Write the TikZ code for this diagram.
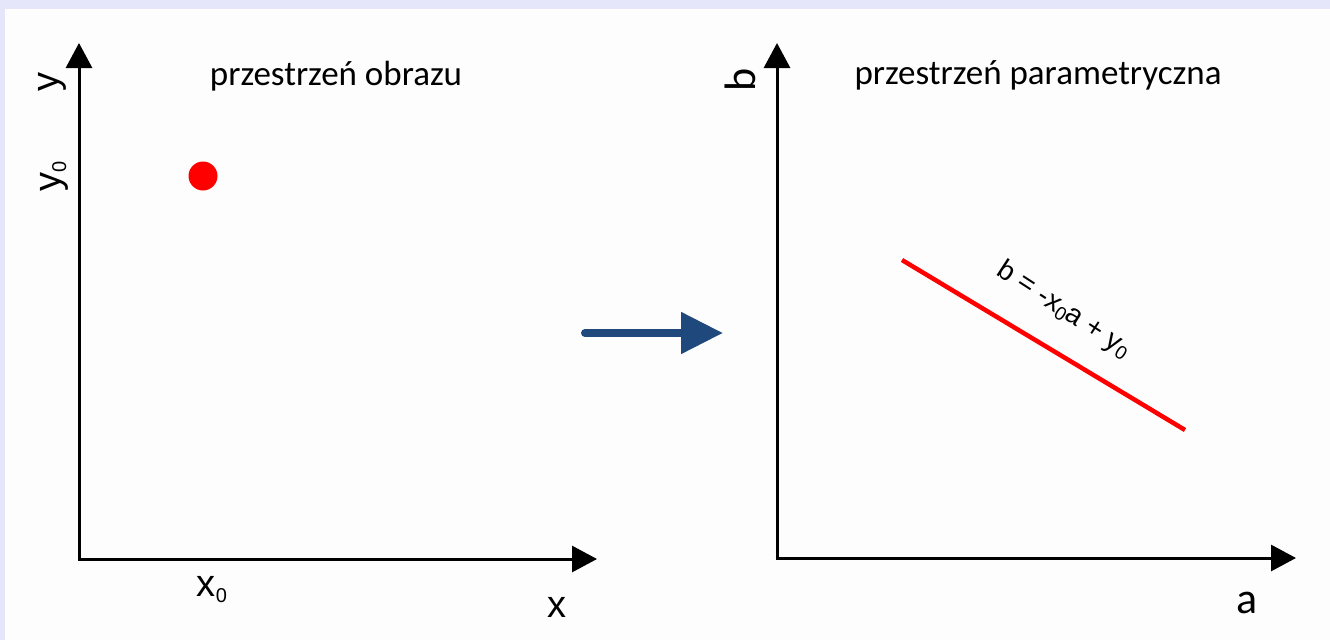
\documentclass[tikz,border=0pt]{standalone}
\usepackage{fontspec}
\setmainfont{Carlito}
\newfontfamily\arialf{Liberation Sans}
\usetikzlibrary{arrows.meta}
\definecolor{lav}{RGB}{230,230,250}
\definecolor{navy}{RGB}{31,73,125}
\definecolor{panel}{RGB}{252,253,252}
\newcommand\smallsub[2]{\raisebox{-0.3ex}{\fontsize{#1}{#1}\selectfont #2}}
\tikzset{
  axis/.style={line width=3pt,-{Triangle[length=25pt,width=26pt]}},
  title/.style={font=\fontsize{35}{40}\selectfont,anchor=base,inner sep=0pt},
  axlab/.style={font=\arialf\fontsize{38}{42}\selectfont,inner sep=0pt},
  parlab/.style={font=\fontsize{44}{48}\selectfont,inner sep=0pt},
  eqlab/.style={font=\arialf\fontsize{28}{32}\selectfont,inner sep=0pt},
  bigarrow/.style={navy,line width=8pt,line cap=round,-{Triangle[length=42pt,width=40pt]}}
}
\begin{document}
\begin{tikzpicture}[x=1pt,y=-1pt]
\fill[lav] (0,0) rectangle (1330,640);
\fill[panel] (5,9) rectangle (1330,640);
\useasboundingbox (0,0) rectangle (1330,640);
% left axes
\coordinate (O1) at (79,559);
\coordinate (Y1) at (79,43);
\coordinate (X1) at (597,559);
\draw[axis] ([xshift=-1.5pt]O1) -- (X1);
\draw[axis] ([yshift=1.5pt]O1) -- (Y1);
% right axes
\coordinate (O2) at (777,558);
\coordinate (Y2) at (777,43);
\coordinate (X2) at (1296,558);
\draw[axis] ([xshift=-1.5pt]O2) -- (X2);
\draw[axis] ([yshift=1.5pt]O2) -- (Y2);
% titles
\node[title] (t1) at (336,85) {przestrzeń obrazu};
\node[title] (t2) at (1038,84) {przestrzeń parametryczna};
% left labels
\node[axlab,rotate=90] (ylab) at (52,82) {y};
\node[axlab,rotate=90] (y0lab) at (54,176) {y\smallsub{20}{0}};
\node[axlab] (x0lab) at (212,590) {x\smallsub{20}{0}};
\node[axlab] (xlab) at (557,607) {x};
% right labels
\node[parlab,rotate=90] (blab) at (740,80) {b};
\node[parlab] (alab) at (1247,603) {a};
% red point
\node[circle,fill=red,minimum size=29pt,inner sep=0pt] (dot) at (203,176) {};
% red line
\coordinate (L1) at (902,260);
\coordinate (L2) at (1185,430);
\draw[red,line width=4.5pt] (L1) -- (L2);
\node[eqlab,rotate=-33] (eq) at (1064,310) {b = -x\smallsub{19}{0}a + y\smallsub{19}{0}};
% transform arrow
\coordinate (A1) at (585,333);
\coordinate (A2) at (723,333);
\draw[bigarrow] (A1) -- (A2);
\end{tikzpicture}
\end{document}
